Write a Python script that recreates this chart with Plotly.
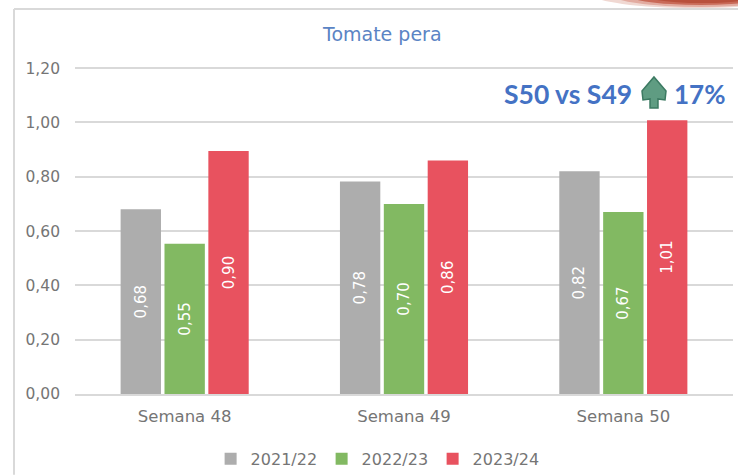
import plotly.graph_objects as go

categories = ["Semana 48", "Semana 49", "Semana 50"]
series_names = ["2021/22", "2022/23", "2023/24"]
values_2122 = [0.68, 0.783, 0.82]
values_2223 = [0.553, 0.70, 0.67]
values_2324 = [0.895, 0.86, 1.008]
colors = ["#ADADAD", "#82B962", "#E8525F"]
y_ticks = [0, 0.2, 0.4, 0.6, 0.8, 1.0, 1.2]
title_text = "Tomate pera"
note_left = "S50 vs S49"
note_right = "17%"

FONT = "DejaVu Sans"
BOLD = "Lato"
TXT = "#757575"
W, H = 738, 475
L, R, T, B = 75, 5, 66, 80.7

fig = go.Figure()
for name, vals, c in zip(series_names, [values_2122, values_2223, values_2324], colors):
    fig.add_bar(
        x=categories, y=vals, name=name, marker=dict(color=c, line_width=0),
        texttemplate="%{y:.2f}", textposition="inside", insidetextanchor="middle",
        textangle=-90, textfont=dict(color="white", size=15, family=FONT),
        cliponaxis=False,
    )

def px(x):
    return (x - L) / (W - L - R)

def py(y):
    return 1 - (y - T) / (H - T - B)

def path(points):
    return "M " + " L ".join(f"{px(x):.4f},{py(y):.4f}" for x, y in points) + " Z"

arrow_path = path([(658, 108), (650, 108), (650, 99), (643, 100), (642, 91), (654, 77),
                   (666, 91), (665, 100), (658, 99)])

frame = dict(type="line", xref="paper", yref="paper", line=dict(color="#D9D9D9", width=2), layer="below")
def blob(x0, x1, y0, y1, color):
    return dict(type="circle", xref="paper", yref="paper", x0=px(x0), x1=px(x1), y0=py(y0), y1=py(y1),
                fillcolor=color, line_width=0, layer="below")
shapes = [
    dict(frame, x0=px(14), x1=px(14), y0=py(9), y1=py(475)),
    dict(frame, x0=px(14), x1=px(738), y0=py(9), y1=py(9)),
    dict(type="path", xref="paper", yref="paper", path=arrow_path,
         fillcolor="#5F9C82", line=dict(color="#3C7A62", width=1.5)),
    blob(592, 800, 8, -20, "#F0D8D2"),
    blob(610, 790, 7, -20, "#E2ABA0"),
    blob(622, 780, 5, -20, "#C96A58"),
    blob(635, 770, 3, -20, "#B9503C"),
]

fig.update_layout(
    width=W, height=H, autosize=False,
    margin=dict(l=L, r=R, t=T, b=B),
    paper_bgcolor="white", plot_bgcolor="white",
    separators=",.",
    barmode="group", bargap=0.4, bargroupgap=0.08,
    font=dict(family=FONT, color=TXT, size=15),
    showlegend=True,
    legend=dict(orientation="h", xref="container", yref="container", x=0.511, xanchor="center",
                y=0.07, yanchor="top",
                font=dict(size=16, color=TXT), itemwidth=30, traceorder="normal",
                entrywidth=66, entrywidthmode="pixels"),
    xaxis=dict(showgrid=False, showline=True, linecolor="#D9D9D9", linewidth=2,
               ticks="", tickfont=dict(size=16.5, color=TXT), ticklabelstandoff=6),
    yaxis=dict(range=[0, 1.208], tickvals=y_ticks, tickformat=".2f", gridcolor="#D9D9D9", gridwidth=1.5,
               zeroline=False, ticks="", tickfont=dict(size=15.5, color=TXT), ticklabelstandoff=14),
    shapes=shapes,
    annotations=[
        dict(text=title_text, xref="paper", yref="paper", x=px(382), y=py(34), showarrow=False,
             xanchor="center", yanchor="middle", font=dict(size=19, color="#5B84C4", family=FONT)),
        dict(text=f"<b>{note_left}</b>", xref="paper", yref="paper", x=px(634), y=py(94), showarrow=False,
             xanchor="right", yanchor="middle", font=dict(size=26.5, color="#4472C4", family=BOLD)),
        dict(text=f"<b>{note_right}</b>", xref="paper", yref="paper", x=px(672), y=py(94), showarrow=False,
             xanchor="left", yanchor="middle", font=dict(size=26, color="#4472C4", family=BOLD)),
    ],
)
fig.write_html("out.html", config={"displayModeBar": False},
               post_script="document.body.style.margin='0';document.documentElement.style.overflow='hidden';")
